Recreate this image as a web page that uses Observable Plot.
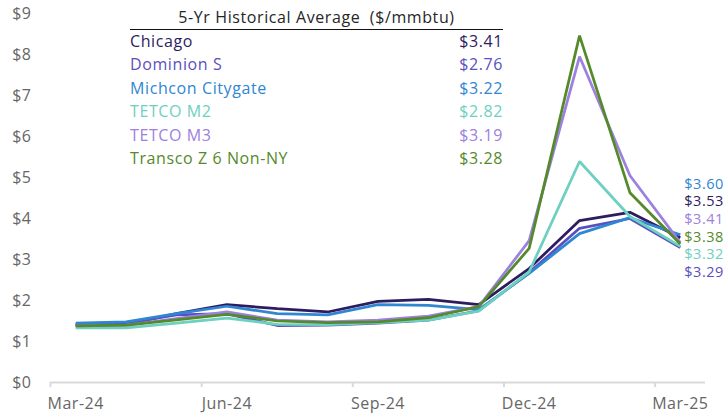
<!DOCTYPE html>
<html>
<head>
<meta charset="utf-8">
<script src="https://cdn.jsdelivr.net/npm/d3@7"></script>
<script src="https://cdn.jsdelivr.net/npm/@observablehq/plot@0.6"></script>
<style>
  body { margin: 0; background: #fff; }
  #wrap { position: relative; width: 728px; height: 413px; font-family: "Open Sans", sans-serif; }
  #legend { position: absolute; left: 130px; top: 6px; width: 373px; font-size: 16px; letter-spacing: 0.6px; }
  #legend .title { text-align: center; color: #262626; border-bottom: 1.5px solid #111; padding-bottom: 1px; line-height: 22px; }
  #legend .row { display: flex; justify-content: space-between; line-height: 23.4px; }
</style>
</head>
<body>
<div id="wrap"><div id="chart"></div><div id="legend"></div></div>
<script>
const months = ["Mar-24","Apr-24","May-24","Jun-24","Jul-24","Aug-24","Sep-24","Oct-24","Nov-24","Dec-24","Jan-25","Feb-25","Mar-25"];
const seriesNames = ["Chicago","Dominion S","Michcon Citygate","TETCO M2","TETCO M3","Transco Z 6 Non-NY"];
const seriesColors = ["#2e1c5f","#5a4fc0","#2f86d2","#6dd0c0","#9d80e0","#558a2a"];
const fiveYrAvg = ["$3.41","$2.76","$3.22","$2.82","$3.19","$3.28"];
const chicago  = [1.40,1.42,1.68,1.90,1.80,1.72,1.98,2.03,1.90,2.78,3.95,4.15,3.53];
const dominion = [1.42,1.45,1.65,1.68,1.39,1.40,1.45,1.52,1.75,2.68,3.76,4.00,3.29];
const michcon  = [1.45,1.48,1.68,1.86,1.68,1.65,1.90,1.88,1.78,2.66,3.63,4.02,3.60];
const tetcoM2  = [1.33,1.33,1.45,1.57,1.42,1.41,1.46,1.52,1.74,2.70,5.39,4.05,3.32];
const tetcoM3  = [1.38,1.40,1.56,1.72,1.52,1.48,1.52,1.62,1.85,3.46,7.95,5.05,3.41];
const transco  = [1.38,1.40,1.53,1.66,1.50,1.46,1.48,1.58,1.85,3.27,8.46,4.63,3.38];
const yTicks = [0,1,2,3,4,5,6,7,8,9];
const xLabelIdx = [0,3,6,9,12];

const allValues = [chicago, dominion, michcon, tetcoM2, tetcoM3, transco];
const data = [];
seriesNames.forEach((s, si) => allValues[si].forEach((v, i) => data.push({series: s, i, v})));

const W = 728, H = 413, mt = 13, mb = 31, ml = 50, mr = 23;
const yPix = v => (H - mb) - (v / 9) * (H - mt - mb);
// end labels: spread vertically to avoid overlap
const ends = seriesNames.map((s, si) => ({series: s, v: allValues[si][12], color: seriesColors[si]}));
ends.sort((a, b) => b.v - a.v);
const spacing = 17.6;
const centerPix = d3.mean(ends, d => yPix(d.v)) - 14;
ends.forEach((d, k) => { d.dy = centerPix + (k - (ends.length - 1) / 2) * spacing - yPix(d.v); });

const colorScale = {domain: seriesNames, range: seriesColors};

const chart = Plot.plot({
  width: W, height: H,
  marginTop: mt, marginBottom: mb, marginLeft: ml, marginRight: mr,
  style: {fontFamily: "Open Sans, sans-serif", fontSize: "16px", color: "#666", overflow: "visible", letterSpacing: "0.5px"},
  x: {domain: [-0.5, 12.5]},
  y: {domain: [0, 9]},
  color: colorScale,
  marks: [
    Plot.axisY({ticks: yTicks, tickFormat: d => "$" + d, tickSize: 0, tickPadding: 19, label: null, fontSize: 16}),
    Plot.axisX({ticks: [-0.5, 2.5, 5.5, 8.5, 11.5], tickFormat: () => "", tickSize: 5, stroke: "#d9d9d9", strokeWidth: 2, label: null}),
    Plot.axisX({ticks: xLabelIdx, tickFormat: i => months[i], tickSize: 0, tickPadding: 15, label: null, fontSize: 16}),
    Plot.ruleY([0], {stroke: "#d9d9d9", strokeWidth: 2}),
    Plot.line(data, {x: "i", y: "v", z: "series", stroke: "series", strokeWidth: 2.75, strokeLinejoin: "miter", strokeLinecap: "butt"}),
    ...ends.map(d => Plot.text([d], {x: () => 12, y: "v", text: e => "$" + e.v.toFixed(2), fill: d.color, dy: d.dy, dx: 4, textAnchor: "start", fontSize: 14.5}))
  ]
});
document.getElementById("chart").appendChild(chart);

const legend = document.getElementById("legend");
const t = document.createElement("div");
t.className = "title";
t.textContent = "5-Yr Historical Average\u00a0\u00a0($/mmbtu)";
legend.appendChild(t);
seriesNames.forEach((s, si) => {
  const r = document.createElement("div");
  r.className = "row";
  r.style.color = seriesColors[si];
  r.innerHTML = `<span>${s}</span><span>${fiveYrAvg[si]}</span>`;
  legend.appendChild(r);
});
</script>
</body>
</html>
